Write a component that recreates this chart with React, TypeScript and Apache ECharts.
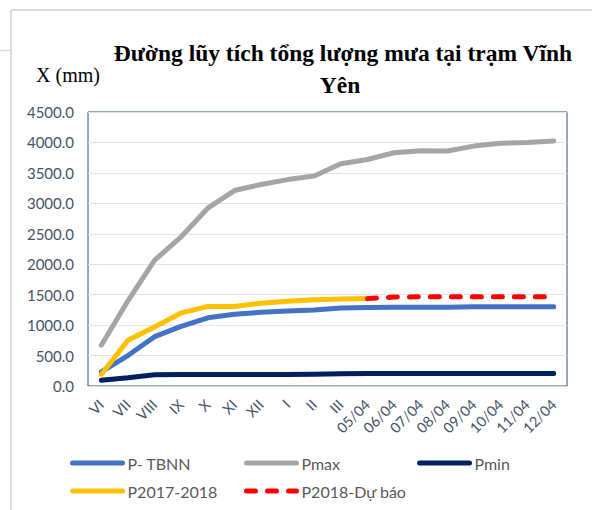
import React, { useEffect, useRef } from "react";
import * as echarts from "echarts";

const categories = ["VI", "VII", "VIII", "IX", "X", "XI", "XII", "I", "II", "III", "05/04", "06/04", "07/04", "08/04", "09/04", "10/04", "11/04", "12/04"];
const pTBNN = [230, 500, 810, 980, 1120, 1180, 1210, 1230, 1250, 1280, 1290, 1295, 1295, 1295, 1300, 1300, 1300, 1300];
const pMax = [670, 1400, 2065, 2450, 2920, 3210, 3310, 3390, 3450, 3650, 3720, 3830, 3865, 3860, 3940, 3985, 4000, 4025];
const pMin = [95, 135, 185, 190, 190, 190, 190, 190, 195, 200, 205, 205, 205, 205, 205, 205, 205, 205];
const p2017 = [190, 750, 970, 1200, 1305, 1305, 1360, 1390, 1415, 1430, 1435, null, null, null, null, null, null, null];
const p2018 = [null, null, null, null, null, null, null, null, null, null, 1435, 1460, 1465, 1465, 1465, 1465, 1465, 1465];
const yTicks = { min: 0, max: 4500, interval: 500 };

const seriesNames = ["P- TBNN", "Pmax", "Pmin", "P2017-2018", "P2018-Dự báo"];
const seriesColors = ["#4472C4", "#A5A5A5", "#002060", "#FFC000", "#FF0000"];

export default function App() {
  const ref = useRef<HTMLDivElement>(null);
  useEffect(() => {
    if (!ref.current) return;
    const chart = echarts.init(ref.current, undefined, { renderer: "svg" });
    const data = [pTBNN, pMax, pMin, p2017, p2018];
    const legendPos = [
      [65, 450],
      [239, 450],
      [412, 450],
      [65, 478],
      [239, 478],
    ];
    const labelFont = "Lato, 'Open Sans', sans-serif";
    chart.setOption({
      animation: false,
      backgroundColor: "#ffffff",
      grid: {
        left: 88,
        top: 112,
        right: 25,
        bottom: 124,
        show: true,
        borderColor: "#2F4A7F",
        borderWidth: 1,
        backgroundColor: "transparent",
      },
      legend: seriesNames.map((n, i) => ({
        data: [n],
        left: legendPos[i][0],
        top: legendPos[i][1],
        itemWidth: 50,
        itemHeight: 4,
        itemGap: 4,
        textStyle: { fontFamily: labelFont, fontSize: 16, color: "#595959" },
        lineStyle: { width: 5, cap: "round" },
        itemStyle: { opacity: 0 },
      })),
      xAxis: {
        type: "category",
        data: categories,
        boundaryGap: true,
        axisTick: { show: false },
        axisLine: { show: true, lineStyle: { color: "#D9D9D9", width: 1 } },
        axisLabel: {
          rotate: 45,
          interval: 0,
          margin: 16,
          fontFamily: labelFont,
          fontSize: 14.5,
          color: "#44546A",
        },
      },
      yAxis: {
        type: "value",
        min: yTicks.min,
        max: yTicks.max,
        interval: yTicks.interval,
        axisLine: { show: false },
        axisTick: { show: false },
        splitLine: { lineStyle: { color: "#E3E3E3", width: 1 } },
        axisLabel: {
          margin: 14,
          fontFamily: labelFont,
          fontSize: 15,
          color: "#44546A",
          formatter: (v: number) => v.toFixed(1),
        },
      },
      graphic: [
        { type: "line", shape: { x1: 11, y1: 10, x2: 11, y2: 510 }, style: { stroke: "#DADADA", lineWidth: 2 } },
        { type: "line", shape: { x1: 11, y1: 10, x2: 592, y2: 10 }, style: { stroke: "#DADADA", lineWidth: 2 } },
        { type: "line", shape: { x1: 0, y1: 50.5, x2: 11, y2: 50.5 }, style: { stroke: "#DADADA", lineWidth: 1.5 } },
        {
          type: "text",
          x: 343,
          y: 53,
          style: {
            text: "Đường lũy tích tổng lượng mưa tại trạm Vĩnh",
            font: "bold 23.5px 'Liberation Serif', 'Times New Roman', serif",
            fill: "#000000",
            textAlign: "center",
            textVerticalAlign: "middle",
          },
        },
        {
          type: "text",
          x: 340,
          y: 85,
          style: {
            text: "Yên",
            font: "bold 23.5px 'Liberation Serif', 'Times New Roman', serif",
            fill: "#000000",
            textAlign: "center",
            textVerticalAlign: "middle",
          },
        },
        {
          type: "text",
          x: 68,
          y: 75,
          style: {
            text: "X (mm)",
            font: "20px 'Liberation Serif', 'Times New Roman', serif",
            fill: "#000000",
            textAlign: "center",
            textVerticalAlign: "middle",
          },
        },
      ],
      series: seriesNames.map((n, i) => ({
        name: n,
        type: "line",
        data: data[i],
        symbol: "none",
        connectNulls: false,
        color: seriesColors[i],
        lineStyle: {
          color: seriesColors[i],
          width: 5,
          cap: "round",
          join: "round",
          type: i === 4 ? [9, 12] : "solid",
        },
        z: 2 + i,
      })),
    });
    return () => chart.dispose();
  }, []);
  return <div ref={ref} style={{ width: 592, height: 510, position: "absolute", left: 0, top: 0 }} />;
}
